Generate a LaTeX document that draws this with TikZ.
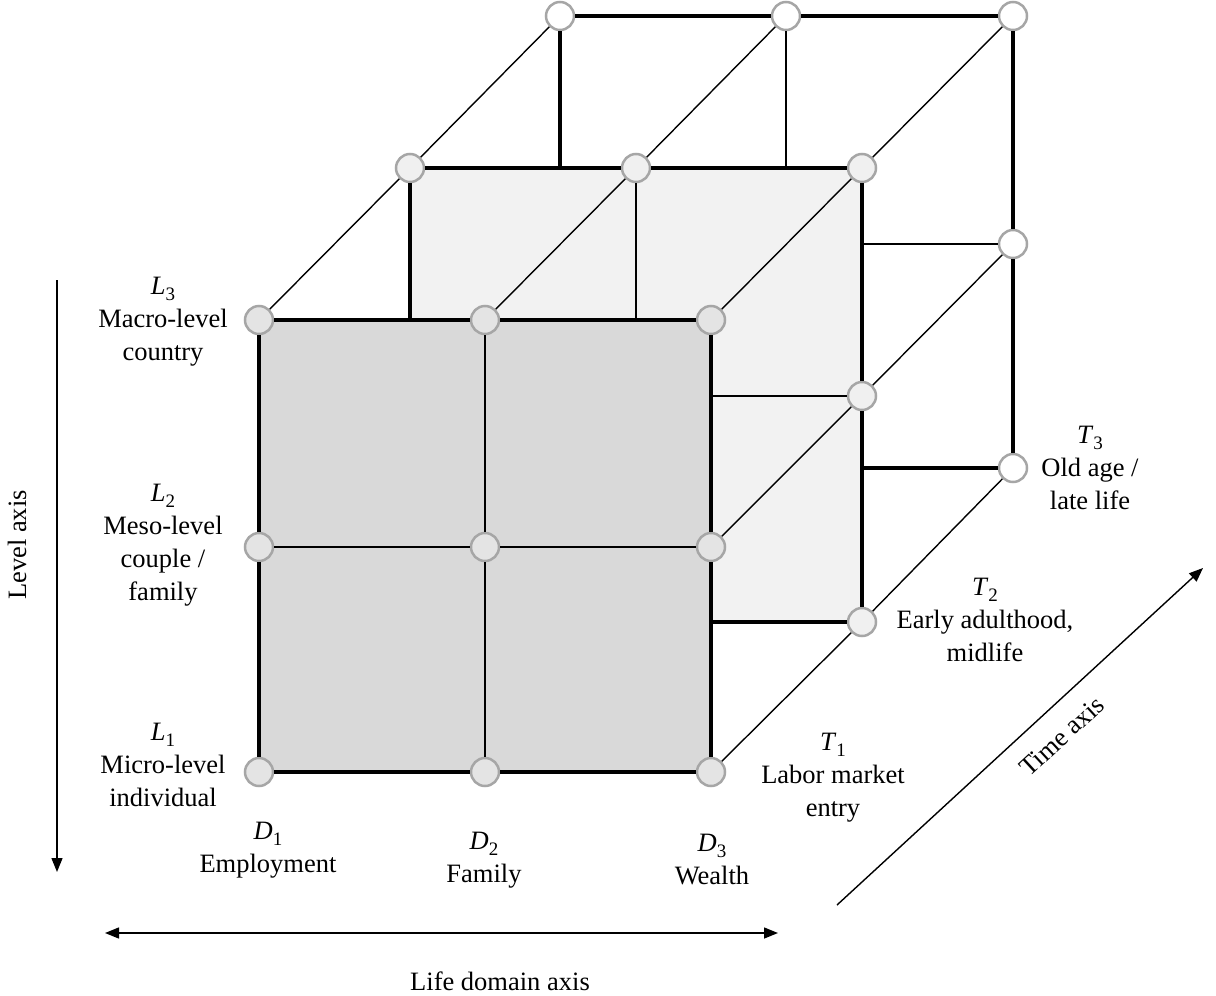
\documentclass[tikz,border=0pt]{standalone}
\usepackage{fontspec}
\setmainfont{Liberation Serif}
\usetikzlibrary{arrows.meta}
\definecolor{frontfill}{HTML}{D9D9D9}
\definecolor{midfill}{HTML}{F2F2F2}
\definecolor{ptgray}{HTML}{A6A6A6}
\definecolor{ptfront}{HTML}{E4E4E4}
\definecolor{ptmid}{HTML}{F0F0F0}
\newcommand{\sym}[2]{\textit{#1}\raisebox{-0.22em}{\fontsize{19}{19}\selectfont #2}}
\begin{document}
\begin{tikzpicture}[x=1pt,y=-1pt,
  thickline/.style={line width=3.1pt,draw=black},
  thinline/.style={line width=1.4pt,draw=black},
  axisline/.style={line width=1.4pt,draw=black},
  vtx/.style={circle,draw=ptgray,line width=2.5pt,minimum size=28pt,inner sep=0pt},
  vfront/.style={vtx,fill=ptfront},
  vmid/.style={vtx,fill=ptmid},
  vback/.style={vtx,fill=white},
  lbl/.style={align=center,font=\fontsize{26.5}{33}\selectfont}]
\useasboundingbox (0,0) rectangle (1216,996);
% face fills
\fill[midfill] (410,168) rectangle (862,622);
\fill[frontfill] (259,320) rectangle (711,772);
% helper coordinates
\coordinate (c1) at (410,320);
\coordinate (c2) at (636,320);
\coordinate (c3) at (711,396);
\coordinate (c4) at (711,622);
\coordinate (c5) at (560,168);
\coordinate (c6) at (786,168);
\coordinate (c7) at (862,244);
\coordinate (c8) at (862,468);
% vertices: front
\node[vfront] (f11) at (259,320) {};
\node[vfront] (f12) at (485,320) {};
\node[vfront] (f13) at (711,320) {};
\node[vfront] (f21) at (259,547) {};
\node[vfront] (f22) at (485,547) {};
\node[vfront] (f23) at (711,547) {};
\node[vfront] (f31) at (259,772) {};
\node[vfront] (f32) at (485,772) {};
\node[vfront] (f33) at (711,772) {};
% middle
\node[vmid] (m1) at (410,168) {};
\node[vmid] (m2) at (636,168) {};
\node[vmid] (m3) at (862,168) {};
\node[vmid] (m4) at (862,396) {};
\node[vmid] (m5) at (862,622) {};
% back
\node[vback] (b1) at (560,16) {};
\node[vback] (b2) at (786,16) {};
\node[vback] (b3) at (1013,16) {};
\node[vback] (b4) at (1013,244) {};
\node[vback] (b5) at (1013,468) {};
% front face edges
\draw[thickline] (f11) -- (f12) -- (f13) -- (f23) -- (f33) -- (f32) -- (f31) -- (f21) -- (f11);
\draw[thinline] (f12) -- (f22) -- (f32);
\draw[thinline] (f21) -- (f22) -- (f23);
% middle face edges
\draw[thickline] (m1) -- (m2) -- (m3) -- (m4) -- (m5);
\draw[thickline] (m1) -- (c1);
\draw[thickline] (c4) -- (m5);
\draw[thinline] (m2) -- (c2);
\draw[thinline] (c3) -- (m4);
% back face edges
\draw[thickline] (b1) -- (b2) -- (b3) -- (b4) -- (b5);
\draw[thickline] (b1) -- (c5);
\draw[thinline] (b2) -- (c6);
\draw[thinline] (c7) -- (b4);
\draw[thickline] (c8) -- (b5);
% depth lines
\draw[thinline] (f11) -- (m1) -- (b1);
\draw[thinline] (f12) -- (m2) -- (b2);
\draw[thinline] (f13) -- (m3) -- (b3);
\draw[thinline] (f23) -- (m4) -- (b4);
\draw[thinline] (f33) -- (m5) -- (b5);
% labels
\node[lbl] (l3) at (163,322) {\sym{L}{3}\\Macro-level\\country};
\node[lbl] (l2) at (163,545) {\sym{L}{2}\\Meso-level\\couple /\\family};
\node[lbl] (l1) at (163,765) {\sym{L}{1}\\Micro-level\\individual};
\node[lbl] (d1) at (268,850) {\sym{D}{1}\\Employment};
\node[lbl] (d2) at (484,860) {\sym{D}{2}\\Family};
\node[lbl] (d3) at (712,860) {\sym{D}{3}\\Wealth};
\node[lbl] (t1) at (833,778) {\sym{T}{1}\\Labor market\\entry};
\node[lbl] (t2) at (985,620) {\sym{T}{2}\\Early adulthood,\\midlife};
\node[lbl] (t3) at (1090,468) {\sym{T}{3}\\Old age /\\late life};
% axes
\coordinate (la1) at (57,280);
\coordinate (la2) at (57,872);
\draw[axisline,-{Triangle[length=14pt,width=11pt]}] (la1) -- (la2);
\node[lbl,rotate=90] (lax) at (17,545) {Level axis};
\coordinate (da1) at (105,933);
\coordinate (da2) at (778,933);
\draw[axisline,{Triangle[length=14pt,width=11pt]}-{Triangle[length=14pt,width=11pt]}] (da1) -- (da2);
\node[lbl] (dax) at (500,981) {Life domain axis};
\coordinate (ta1) at (837,905);
\coordinate (ta2) at (1203,568);
\draw[axisline,-{Triangle[length=14pt,width=11pt]}] (ta1) -- (ta2);
\node[lbl,rotate=42.6] (tax) at (1062,736) {Time axis};
\end{tikzpicture}
\end{document}
